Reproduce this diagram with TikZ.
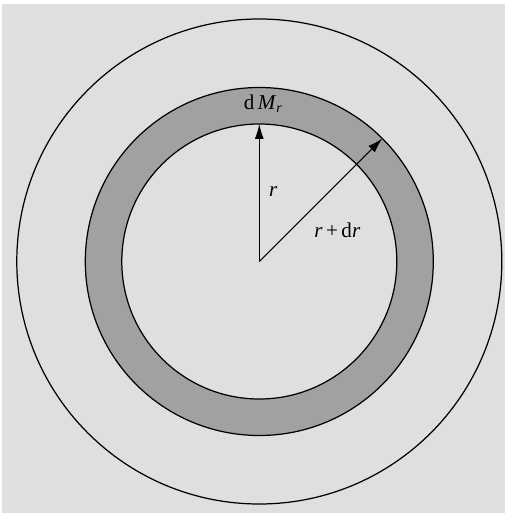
\documentclass[tikz,border=0pt]{standalone}
\usepackage{fontspec}
\setmainfont{Liberation Serif}
\usetikzlibrary{arrows.meta}
\definecolor{shellbg}{gray}{0.875}
\definecolor{shellring}{gray}{0.63}
\tikzset{
 shell line/.style={line width=0.7pt},
 shell arrow/.style={line width=0.6pt,-{Latex[length=3mm,width=1.8mm]}},
 shell label/.style={font=\large,inner sep=1pt}
}
\newcommand{\itl}[1]{\textit{#1}}
\begin{document}
\begin{tikzpicture}
 \useasboundingbox (-5.186,-5.05) rectangle (4.994,5.23);
 \fill[shellbg] (-5.146,-5.03) rectangle (4.914,5.15);
 \coordinate (O) at (0,0);

 % star and the thin shell
 \draw[shell line] (O) circle (4.85);
 \draw[shell line,fill=shellring] (O) circle (3.48);
 \draw[shell line,fill=shellbg] (O) circle (2.75);

 \coordinate (rin) at (90:2.75);
 \coordinate (rout) at (45:3.48);
 \draw[shell arrow] (O) -- (rin);
 \draw[shell arrow] (O) -- (rout);

 \node[shell label] (dm) at (0.08,3.16) {d\,\itl{M}\textsubscript{\itl{r}}};
 \node[shell label] (lr) at (0.28,1.39) {\itl{r}};
 \node[shell label] (ldr) at (1.56,0.63) {\itl{r}\,+\,d\itl{r}};
\end{tikzpicture}
\end{document}
